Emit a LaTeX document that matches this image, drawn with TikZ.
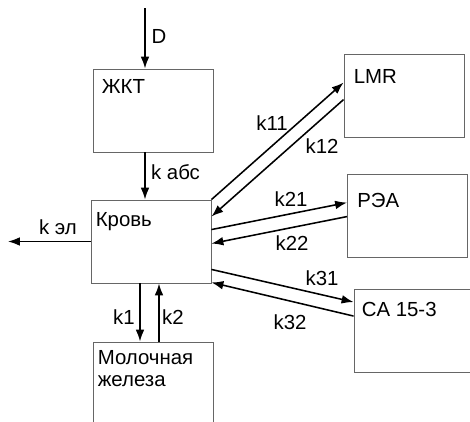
\documentclass[tikz,border=0pt]{standalone}
\usepackage{fontspec}
\setmainfont{Liberation Sans}
\usetikzlibrary{arrows.meta}
\tikzset{
  block/.style={draw=black!60, line width=0.6pt, minimum width=3cm, minimum height=2.075cm, inner sep=0pt},
  blocktext/.style={anchor=north west, inner sep=0pt, align=left, font=\fontsize{14.5}{15.6}\selectfont},
  ratelabel/.style={inner sep=0pt, font=\fontsize{14.5}{15.6}\selectfont},
  arrow/.style={-{Latex[length=8.5pt,width=6.2pt]}, line width=1.1pt}
}
\begin{document}
\begin{tikzpicture}[x=0.025cm, y=-0.025cm]
\useasboundingbox (0,0) rectangle (470,422);
\clip (0,0) rectangle (470,422);
\node[block] (zkt) at (153,110.5) {};
\node[block] (krov) at (151,241.5) {};
\node[block] (mol) at (153,383.5) {};
\node[block] (lmr) at (404,95.5) {};
\node[block] (rea) at (407.5,215.5) {};
\node[block] (ca) at (414,331) {};
\node[blocktext] (zkt-t) at ([shift={(9,11)}]zkt.north west) {ЖКТ};
\node[blocktext] (krov-t) at ([shift={(5,12.5)}]krov.north west) {Кровь};
\node[blocktext] (mol-t) at ([shift={(5,9)}]mol.north west) {Молочная\\железа};
\node[blocktext] (lmr-t) at ([shift={(10,16)}]lmr.north west) {LMR};
\node[blocktext] (rea-t) at ([shift={(10,19)}]rea.north west) {РЭА};
\node[blocktext] (ca-t) at ([shift={(8,13)}]ca.north west) {CA 15-3};
\coordinate (dose) at (145,8);
\coordinate (elim) at (8,241.5);
\draw[arrow] (dose) -- (dose |- zkt.north);
\draw[arrow] (dose |- zkt.south) -- (dose |- krov.north);
\draw[arrow] (krov.west) -- (elim);
\draw[arrow] ([shift={(-11,0)}]krov.south) -- ([shift={(-13,0)}]mol.north);
\draw[arrow] ([shift={(6,0)}]mol.north) -- ([shift={(8,0)}]krov.south);
\draw[arrow] (krov.north east) -- ([shift={(0,29)}]lmr.north west);
\draw[arrow] ([shift={(0,46)}]lmr.north west) -- ([shift={(0,17)}]krov.north east);
\draw[arrow] ([shift={(0,30)}]krov.north east) -- ([shift={(0,29)}]rea.north west);
\draw[arrow] ([shift={(0,43)}]rea.north west) -- ([shift={(0,44)}]krov.north east);
\draw[arrow] ([shift={(0,-14)}]krov.south east) -- ([shift={(0,13)}]ca.north west);
\draw[arrow] ([shift={(0,27)}]ca.north west) -- ([shift={(0,-1)}]krov.south east);
\node[ratelabel] (d) at (159,36) {D};
\node[ratelabel] (kabs) at (175.5,172) {k абс};
\node[ratelabel] (kel) at (58,227) {k эл};
\node[ratelabel] (k1) at (124,317) {k1};
\node[ratelabel] (k2) at (173,317) {k2};
\node[ratelabel] (k11) at (272,123) {k11};
\node[ratelabel] (k12) at (322,146) {k12};
\node[ratelabel] (k21) at (291,199) {k21};
\node[ratelabel] (k22) at (292,243) {k22};
\node[ratelabel] (k31) at (322,278) {k31};
\node[ratelabel] (k32) at (290,322) {k32};
\end{tikzpicture}
\end{document}
